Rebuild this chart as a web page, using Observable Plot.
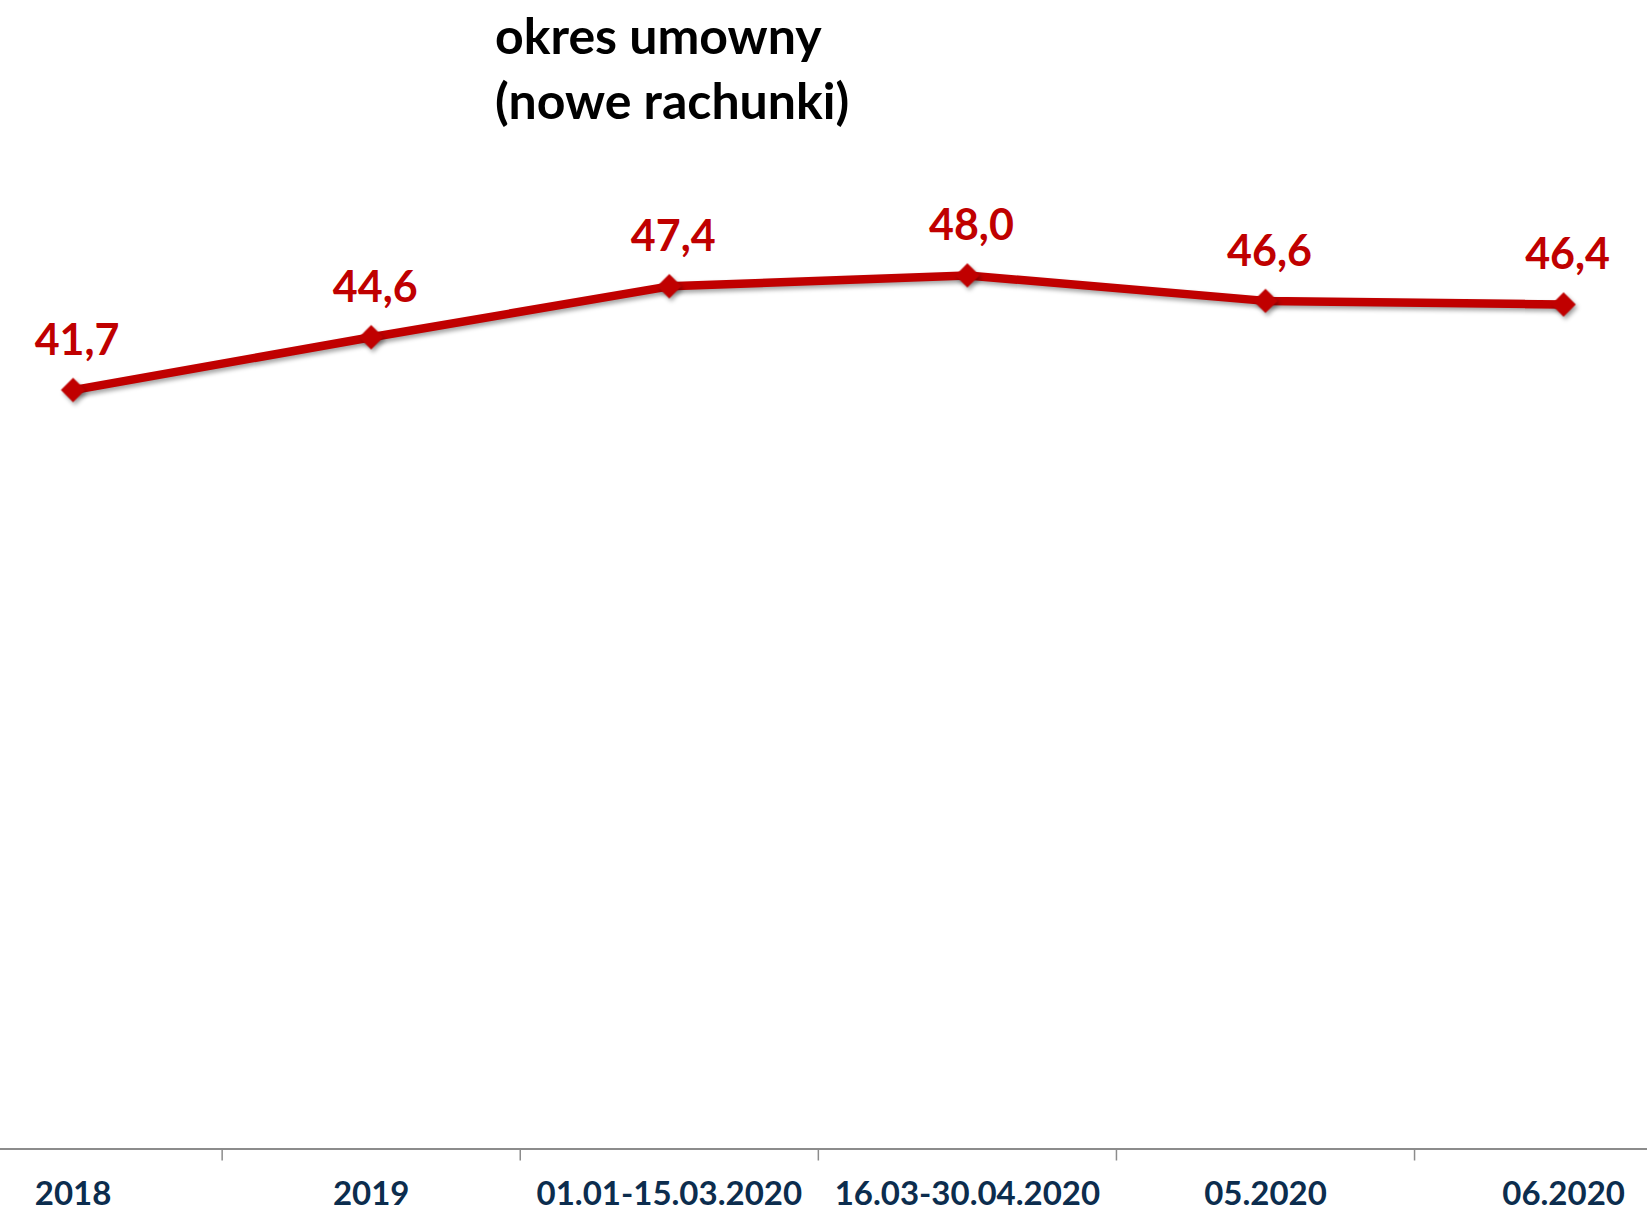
<!DOCTYPE html>
<html>
<head>
<meta charset="utf-8">
<script src="https://cdn.jsdelivr.net/npm/d3@7"></script>
<script src="https://cdn.jsdelivr.net/npm/@observablehq/plot@0.6"></script>
<style>
  html, body { margin: 0; padding: 0; background: #fff; }
  #wrap { position: relative; width: 1647px; height: 1213px; overflow: hidden; }
  #title {
    position: absolute; left: 495px; top: 3px;
    font-family: Lato, "Noto Sans", sans-serif; font-weight: bold;
    font-size: 50px; line-height: 65px; color: #000; white-space: nowrap; z-index: 2;
  }
  svg g[aria-label="line"], svg g[aria-label="dot"] {
    filter: drop-shadow(2px 3px 2px rgba(0,0,0,0.35));
  }
</style>
</head>
<body>
<div id="wrap">
  <div id="title">okres umowny<br>(nowe rachunki)</div>
</div>
<script>
const categories = ["2018", "2019", "01.01-15.03.2020", "16.03-30.04.2020", "05.2020", "06.2020"];
const values = [41.7, 44.6, 47.4, 48.0, 46.6, 46.4];

const data = categories.map((c, i) => ({i, category: c, value: values[i]}));
const red = "#C00000";
const navy = "#0c2d4e";
const gray = "#8c8c8c";
const fmt = v => v.toFixed(1).replace(".", ",");

const chart = Plot.plot({
  width: 1647,
  height: 1213,
  marginLeft: 0,
  marginRight: 0,
  marginTop: 0,
  marginBottom: 64.5,
  style: {fontFamily: "Lato, 'Noto Sans', sans-serif", background: "#fff", overflow: "hidden"},
  x: {type: "linear", domain: [-0.5, 5.5], range: [-76.45, 1712.15]},
  y: {domain: [0, 60], range: [1148.5, 56.5], axis: null},
  marks: [
    Plot.ruleY([0], {stroke: gray, strokeWidth: 2}),
    Plot.axisX([0.5, 1.5, 2.5, 3.5, 4.5], {
      anchor: "bottom", tickSize: 12, tickFormat: () => "", stroke: gray, strokeWidth: 1.5, label: null
    }),
    Plot.axisX(d3.range(categories.length), {
      anchor: "bottom", tickSize: 0, tickPadding: 33, tickFormat: i => categories[i],
      fill: navy, fontSize: 33, fontWeight: "bold", label: null
    }),
    Plot.line(data, {x: "i", y: "value", stroke: red, strokeWidth: 8.5}),
    Plot.dot(data, {x: "i", y: "value", symbol: "diamond2", r: 11, fill: red, stroke: "none"}),
    Plot.text(data, {
      x: "i", y: "value", text: d => fmt(d.value), dy: -49, dx: 4,
      fill: red, fontSize: 43, fontWeight: "bold"
    })
  ]
});
document.getElementById("wrap").appendChild(chart);
</script>
</body>
</html>
